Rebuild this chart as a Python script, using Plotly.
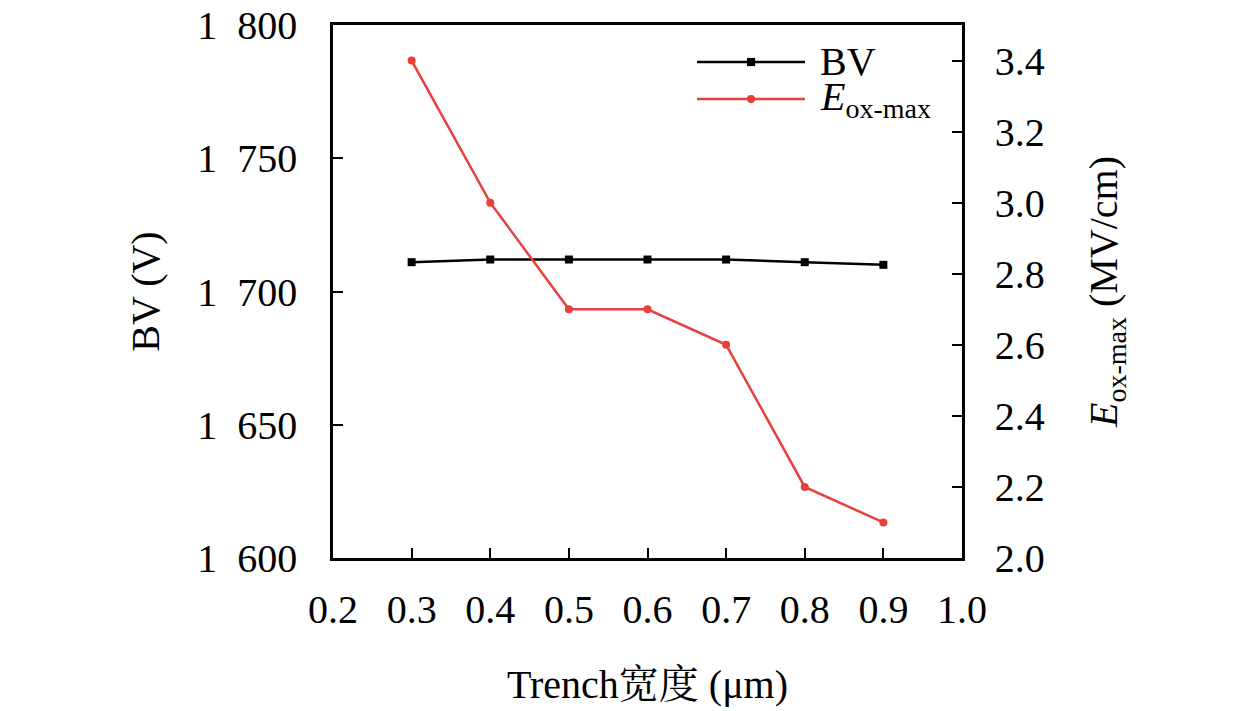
import plotly.graph_objects as go

# data
width_um = [0.3, 0.4, 0.5, 0.6, 0.7, 0.8, 0.9]
bv = [1711, 1712, 1712, 1712, 1712, 1711, 1710]
e_ox_max = [3.4, 3.0, 2.7, 2.7, 2.6, 2.2, 2.1]

x_ticks = [0.2, 0.3, 0.4, 0.5, 0.6, 0.7, 0.8, 0.9, 1.0]
bv_ticks = [1600, 1650, 1700, 1750, 1800]
bv_ticktext = ["1\u2002600", "1\u2002650", "1\u2002700", "1\u2002750", "1\u2002800"]
e_ticks = [2.0, 2.2, 2.4, 2.6, 2.8, 3.0, 3.2, 3.4]

FONT = "Liberation Serif, Noto Serif CJK SC, Noto Sans CJK SC, serif"
RED = "#e8413c"
FS = 40

fig = go.Figure()
fig.add_trace(go.Scatter(
    x=width_um, y=bv, mode="lines+markers", name="BV",
    line=dict(color="black", width=2.5),
    marker=dict(symbol="square", size=8, color="black"),
))
fig.add_trace(go.Scatter(
    x=width_um, y=e_ox_max, mode="lines+markers", name="E<sub>ox-max</sub>",
    yaxis="y2",
    line=dict(color=RED, width=2.5),
    marker=dict(symbol="circle", size=8, color=RED),
))

axis_style = dict(showline=True, linecolor="black", linewidth=2.5,
                  ticks="inside", ticklen=10, tickwidth=2, tickcolor="black",
                  showgrid=False, zeroline=False, ticklabeloverflow="allow",
                  automargin=False,
                  tickfont=dict(family=FONT, size=FS, color="black"))

# the page body has an 8px margin, so margins are shifted to keep the plot box in place
fig.update_layout(
    width=1260, height=711,
    margin=dict(l=325, r=306, t=17, b=161),
    plot_bgcolor="white", paper_bgcolor="white",
    showlegend=False,
    font=dict(family=FONT, color="black"),
    xaxis=dict(range=[0.2, 1.0], tickvals=x_ticks, tickformat=".1f",
               mirror=True, ticklabelstandoff=14,
               title=dict(text="Trench宽度 (μm)", font=dict(size=FS), standoff=40),
               **axis_style),
    yaxis=dict(range=[1600, 1800], tickvals=bv_ticks, ticktext=bv_ticktext,
               ticklabelstandoff=25,
               title=dict(text="BV (V)", font=dict(size=FS), standoff=26),
               **axis_style),
    yaxis2=dict(range=[2.0, 3.5], tickvals=e_ticks, tickformat=".1f",
                overlaying="y", side="right", ticklabelstandoff=22,
                title=dict(text="<i>E</i><sub>ox-max</sub> (MV/cm)", font=dict(size=FS), standoff=46),
                **axis_style),
)

# hand-drawn legend in the upper right of the plot area
legend_rows = [("BV", "black", "square", 0.9306), ("<i>E</i><sub>ox-max</sub>", RED, "circle", 0.861)]
for label, color, sym, yy in legend_rows:
    fig.add_shape(type="line", xref="paper", yref="paper", x0=0.5787, x1=0.7504,
                  y0=yy, y1=yy, line=dict(color=color, width=2.5))
    r = 0.0065
    fig.add_shape(type="rect" if sym == "square" else "circle", xref="paper", yref="paper",
                  x0=0.6646 - r, x1=0.6646 + r, y0=yy - r * 629 / 533, y1=yy + r * 629 / 533,
                  fillcolor=color, line=dict(width=0))
    fig.add_annotation(xref="paper", yref="paper", x=0.771, y=yy, text=label,
                       showarrow=False, xanchor="left", yanchor="middle",
                       font=dict(family=FONT, size=FS, color="black"))

fig.write_html("out.html")
